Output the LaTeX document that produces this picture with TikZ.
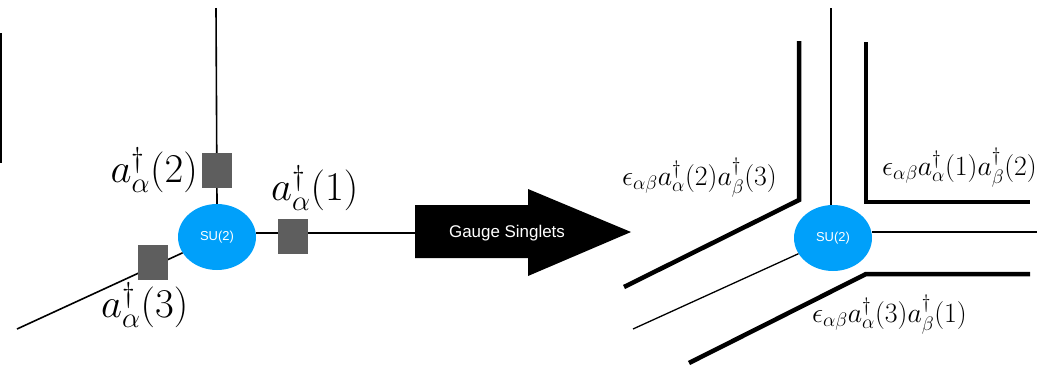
\RequirePackage{fix-cm}
\documentclass[tikz,border=0pt]{standalone}
\usepackage{amsmath,amssymb}
\usepackage{fontspec}
\newfontfamily\tagsans{Liberation Sans}
\usetikzlibrary{shapes.geometric}
\definecolor{sublue}{RGB}{0,160,250}
\definecolor{boxgray}{RGB}{94,94,94}
\tikzset{
  sunode/.style={ellipse,fill=sublue,text=white,inner sep=0pt,
    minimum width=78bp,minimum height=66bp,font=\tagsans\fontsize{13}{15}\selectfont},
  opbox/.style={fill=boxgray,inner sep=0pt,minimum width=30bp,minimum height=35bp},
  leg/.style={line width=1.6bp},
  pair/.style={line width=4.5bp,line join=miter},
  bigop/.style={font=\fontsize{41}{46}\selectfont,inner sep=0pt},
  smallop/.style={font=\fontsize{28}{32}\selectfont,inner sep=0pt},
}

\begin{document}
\begin{tikzpicture}[x=1bp,y=-1bp,line cap=butt]
\useasboundingbox (0,0) rectangle (1048,366);

% left: vertex with three legs
\node[sunode] (suL) at (217,237) {SU(2)};
\coordinate (topL) at (216,8);
\coordinate (tailL) at (415,233);
\coordinate (endL) at (17,329);
\draw[leg] (topL) -- (suL.north);
\draw[leg] (suL.east |- tailL) -- (tailL);
\draw[leg] (endL) -- (suL);
\draw[leg] (1,33) -- (1,163);
\node[opbox] (op1) at (293,236) {};
\node[opbox] (op2) at (217,170) {};
\node[opbox] (op3) at (153,262) {};
\node[bigop,anchor=base east] (lab2) at (198,182) {$a^\dagger_\alpha(2)$};
\node[bigop,anchor=base west] (lab1) at (271,200) {$a^\dagger_\alpha(1)$};
\node[bigop,anchor=base west] (lab3) at (101,317) {$a^\dagger_\alpha(3)$};

% arrow
\fill (415,205) -- (528,205) -- (528,189) -- (631,232) -- (528,276) -- (528,258) -- (415,258) -- cycle;
\node[text=white,font=\tagsans\fontsize{17}{19}\selectfont] (gs) at (507,233) {Gauge Singlets};

% right: contracted pairs
\node[sunode] (suR) at (833,238) {SU(2)};
\coordinate (topR) at (831,8);
\coordinate (rightR) at (1037,232);
\coordinate (endR) at (633,329);
\draw[leg,line width=1.3bp] (topR) -- (topR |- suR.north);
\draw[leg,line width=1.3bp] (suR.east |- rightR) -- (rightR);
\draw[leg,line width=1.3bp] (endR) -- (suR);
\draw[pair] (799,41) -- (799,200) -- (624,287);
\draw[pair] (866,42) -- (866,202) -- (1030,202);
\draw[pair] (1030,274) -- (866,274) -- (689,363);
\node[smallop,anchor=base west] (e23) at (622,185) {$\epsilon_{\alpha\beta}a^\dagger_\alpha(2)a^\dagger_\beta(3)$};
\node[smallop,anchor=base west] (e12) at (882,175) {$\epsilon_{\alpha\beta}a^\dagger_\alpha(1)a^\dagger_\beta(2)$};
\node[smallop,anchor=base west] (e31) at (812,322) {$\epsilon_{\alpha\beta}a^\dagger_\alpha(3)a^\dagger_\beta(1)$};
\end{tikzpicture}
\end{document}
